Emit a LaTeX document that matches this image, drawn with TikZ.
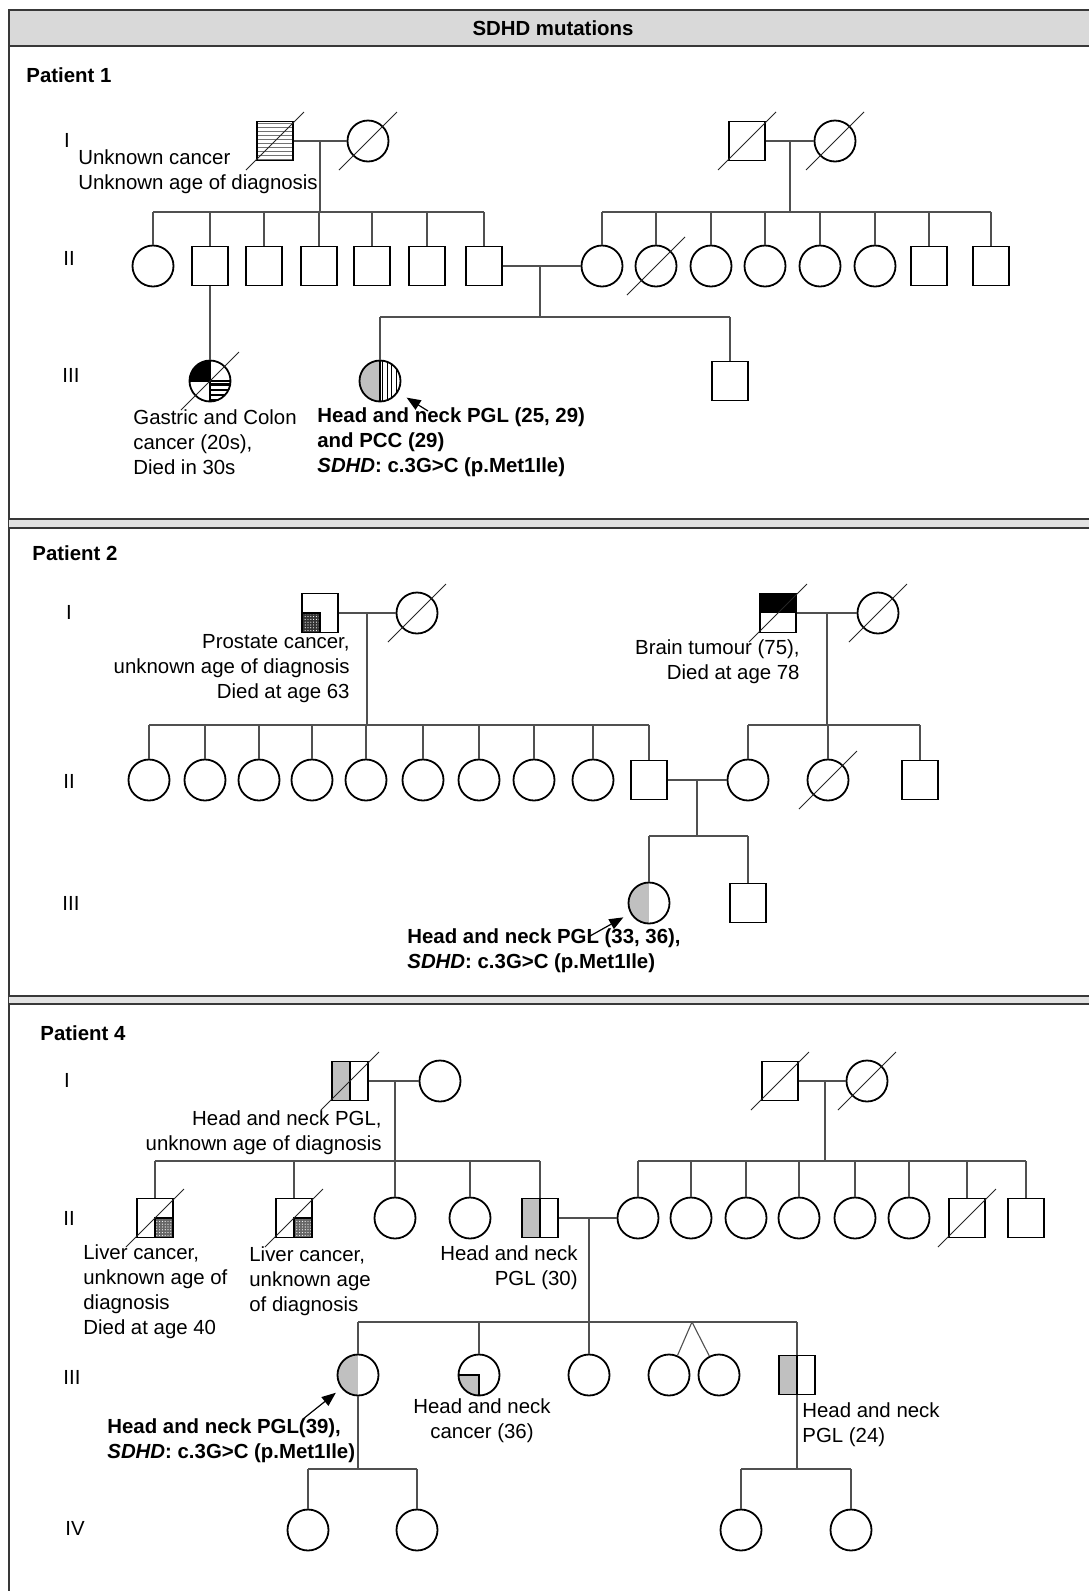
\documentclass[tikz,border=0pt]{standalone}
\usepackage{fontspec}
\setmainfont{Liberation Sans}
\usepackage{xcolor}
\definecolor{AffGray}{HTML}{C0C0C0}
\definecolor{HeadGray}{HTML}{D9D9D9}
\definecolor{LineGray}{HTML}{505050}
\definecolor{RuleDark}{HTML}{383838}
\definecolor{BandGray}{HTML}{E2E2E2}
\usetikzlibrary{arrows.meta, patterns.meta}

\newcommand{\deceased}[1]{\draw[slash] (#1) ++(-29,29) -- ++(58,-58);}

\begin{document}
\begin{tikzpicture}[x=0.5pt, y=-0.5pt,
  male/.style={rectangle, draw=black, line width=0.9pt, fill=white,
               minimum width=18pt, minimum height=19.5pt, inner sep=0pt},
  female/.style={circle, draw=black, line width=0.9pt, fill=white,
                 minimum size=20.5pt, inner sep=0pt},
  lne/.style={draw=LineGray, line width=0.55pt},
  slash/.style={draw=black!85, line width=0.5pt},
  rule/.style={draw=RuleDark, line width=1pt},
  pointer/.style={-{Triangle[length=7pt, width=5.5pt, fill=black]}, draw=black, line width=0.6pt},
  txt/.style={font=\fontsize{10.2pt}{12.5pt}\selectfont, inner sep=0pt},
  btxt/.style={font=\fontsize{10.2pt}{12.5pt}\selectfont\bfseries, inner sep=0pt},
  %% fills of affected symbols
  halfsq/.style={path picture={
    \fill[AffGray] (path picture bounding box.south west) rectangle (path picture bounding box.north);
    \draw[line width=0.9pt] (path picture bounding box.north) -- (path picture bounding box.south);}},
  halfci/.style={path picture={
    \fill[AffGray] (path picture bounding box.south west) rectangle (path picture bounding box.north);}},
  halftop/.style={path picture={
    \fill[black] (path picture bounding box.west) rectangle (path picture bounding box.north east);}},
  stripesq/.style={path picture={
    \fill[pattern={Lines[angle=0, distance=2pt, line width=0.35pt]}, pattern color=black!55]
      (path picture bounding box.south west) rectangle (path picture bounding box.north east);}},
  quadci/.style={path picture={
    \fill[black] (path picture bounding box.west) rectangle (path picture bounding box.north);
    \fill[pattern={Lines[angle=0, distance=2.6pt, line width=1.1pt]}, pattern color=black]
      (path picture bounding box.center) rectangle (path picture bounding box.south east);
    \draw[line width=0.7pt] (path picture bounding box.north) -- (path picture bounding box.south)
      (path picture bounding box.west) -- (path picture bounding box.east);}},
  vstripe/.style={path picture={
    \fill[AffGray] (path picture bounding box.south west) rectangle (path picture bounding box.north);
    \fill[pattern={Lines[angle=90, distance=2.2pt, line width=0.5pt]}, pattern color=black]
      (path picture bounding box.south) rectangle (path picture bounding box.north east);
    \draw[line width=0.7pt] (path picture bounding box.north) -- (path picture bounding box.south);}},
  dotsq/.style={path picture={
    \fill[black!80] (path picture bounding box.center) rectangle (path picture bounding box.south west);
    \fill[pattern={Dots[distance=1.4pt, radius=0.3pt]}, pattern color=white]
      (path picture bounding box.center) rectangle (path picture bounding box.south west);
    \draw[line width=0.6pt] (path picture bounding box.west) -- (path picture bounding box.center)
      -- (path picture bounding box.south);}},
  liversq/.style={path picture={
    \fill[black!60] (path picture bounding box.center) rectangle (path picture bounding box.south east);
    \fill[pattern={Dots[distance=1.4pt, radius=0.3pt]}, pattern color=white]
      (path picture bounding box.center) rectangle (path picture bounding box.south east);
    \draw[line width=0.6pt] (path picture bounding box.east) -- (path picture bounding box.center)
      -- (path picture bounding box.south);}},
  quarterci/.style={path picture={
    \fill[AffGray] (path picture bounding box.center) rectangle (path picture bounding box.south west);
    \draw[line width=0.8pt] (path picture bounding box.west) -- (path picture bounding box.center)
      -- (path picture bounding box.south);}}
]
\useasboundingbox (0,0) rectangle (1088,1591);
\fill[white] (0,0) rectangle (1088,1591);

%% ---- Frame and header ----
\draw[rule, fill=HeadGray] (9,10) rectangle (1096,46);
\node[btxt] (title) at (553,28) {SDHD mutations};
\draw[rule] (9,46) -- (9,1595);
\fill[BandGray] (9,519) rectangle (1096,528);
\draw[rule] (9,519) -- (1096,519) (9,528) -- (1096,528);
\fill[BandGray] (9,996) rectangle (1096,1004);
\draw[rule] (9,996) -- (1096,996) (9,1004) -- (1096,1004);

%% ================= Patient 1 =================
\node[btxt, anchor=west] (pt1) at (26,75) {Patient 1};
\node[txt] (p1gI)   at (67,140) {I};
\node[txt] (p1gII)  at (69,258) {II};
\node[txt] (p1gIII) at (71,375) {III};

% generation I
\node[male, stripesq] (p1a) at (275,141) {};
\node[female]         (p1b) at (368,141) {};
\node[male]           (p1c) at (747,141) {};
\node[female]         (p1d) at (835,141) {};

% generation II
\node[female] (p1k1) at (153,266) {};
\foreach \x [count=\i from 2] in {210,264,319,372,427,484}
  \node[male] (p1k\i) at (\x,266) {};
\foreach \x [count=\i] in {602,656,711,765,820,875}
  \node[female] (p1r\i) at (\x,266) {};
\node[male] (p1r7) at (929,266) {};
\node[male] (p1r8) at (991,266) {};

% generation III
\node[female, quadci]  (p1g1) at (210,381) {};
\node[female, vstripe] (p1g2) at (380,381) {};
\node[male]            (p1g3) at (730,381) {};

\coordinate (p1m1) at (320,141); \coordinate (p1s1) at (320,212);
\coordinate (p1m2) at (790,141); \coordinate (p1s2) at (790,212);
\coordinate (p1m3) at (540,266); \coordinate (p1s3) at (540,317);

\draw[lne] (p1a) -- (p1b);
\draw[lne] (p1m1) -- (p1s1);
\draw[lne] (p1k1 |- p1s1) -- (p1k7 |- p1s1);
\foreach \i in {1,...,7} {\draw[lne] (p1k\i) -- (p1k\i |- p1s1);}
\draw[lne] (p1c) -- (p1d);
\draw[lne] (p1m2) -- (p1s2);
\draw[lne] (p1r1 |- p1s2) -- (p1r8 |- p1s2);
\foreach \i in {1,...,8} {\draw[lne] (p1r\i) -- (p1r\i |- p1s2);}
\draw[lne] (p1k7) -- (p1r1);
\draw[lne] (p1k2) -- (p1g1);
\draw[lne] (p1m3) -- (p1s3);
\draw[lne] (p1g2 |- p1s3) -- (p1g3 |- p1s3);
\draw[lne] (p1g2) -- (p1g2 |- p1s3);
\draw[lne] (p1g3) -- (p1g3 |- p1s3);

\foreach \n in {p1a,p1b,p1c,p1d,p1r2,p1g1} {\deceased{\n}}

\coordinate (p1ar) at (428,411);
\draw[pointer, shorten >=5pt] (p1ar) -- (p1g2);

\node[txt, anchor=west, align=left] (p1t1) at (78,171.5)
  {Unknown cancer\\Unknown age of diagnosis};
\node[txt, anchor=west, align=left] (p1t2) at (133,442)
  {Gastric and Colon\\cancer (20s),\\Died in 30s};
\node[btxt, anchor=west, align=left] (p1t3) at (317,442)
  {Head and neck PGL (25, 29)\\and PCC (29)\\\textit{SDHD}: c.3G\textgreater C (p.Met1Ile)};

%% ================= Patient 2 =================
\node[btxt, anchor=west] (pt2) at (32,553) {Patient 2};
\node[txt] (p2gI)   at (69,612) {I};
\node[txt] (p2gII)  at (69,781) {II};
\node[txt] (p2gIII) at (71,903) {III};

% generation I
\node[male, dotsq]   (p2a) at (320,613) {};
\node[female]        (p2b) at (417,613) {};
\node[male, halftop] (p2c) at (778,613) {};
\node[female]        (p2d) at (878,613) {};

% generation II
\foreach \x [count=\i] in {149,205,259,312,366,423,479,534,593}
  \node[female] (p2k\i) at (\x,780) {};
\node[male]   (p2k10) at (649,780) {};
\node[female] (p2r1) at (748,780) {};
\node[female] (p2r2) at (828,780) {};
\node[male]   (p2r3) at (920,780) {};

% generation III
\node[female, halfci] (p2g1) at (649,903) {};
\node[male]           (p2g2) at (748,903) {};

\coordinate (p2m1) at (367,613); \coordinate (p2s1) at (367,725);
\coordinate (p2m2) at (827,613); \coordinate (p2s2) at (827,725);
\coordinate (p2m3) at (697,780); \coordinate (p2s3) at (697,836);

\draw[lne] (p2a) -- (p2b);
\draw[lne] (p2m1) -- (p2s1);
\draw[lne] (p2k1 |- p2s1) -- (p2k10 |- p2s1);
\foreach \i in {1,...,10} {\draw[lne] (p2k\i) -- (p2k\i |- p2s1);}
\draw[lne] (p2c) -- (p2d);
\draw[lne] (p2m2) -- (p2s2);
\draw[lne] (p2r1 |- p2s2) -- (p2r3 |- p2s2);
\foreach \i in {1,2,3} {\draw[lne] (p2r\i) -- (p2r\i |- p2s2);}
\draw[lne] (p2k10) -- (p2r1);
\draw[lne] (p2m3) -- (p2s3);
\draw[lne] (p2g1 |- p2s3) -- (p2g2 |- p2s3);
\draw[lne] (p2g1) -- (p2g1 |- p2s3);
\draw[lne] (p2g2) -- (p2g2 |- p2s3);

\foreach \n in {p2b,p2c,p2d,p2r2} {\deceased{\n}}

\coordinate (p2ar) at (590,936);
\draw[pointer, shorten >=4pt] (p2ar) -- (p2g1);

\node[txt, anchor=east, align=right] (p2t1) at (350,669)
  {Prostate cancer,\\unknown age of diagnosis\\Died at age 63};
\node[txt, anchor=east, align=right] (p2t2) at (800,661.5)
  {Brain tumour (75),\\Died at age 78};
\node[btxt, anchor=west, align=left] (p2t3) at (407,950.5)
  {Head and neck PGL (33, 36),\\\textit{SDHD}: c.3G\textgreater C (p.Met1Ile)};

%% ================= Patient 4 =================
\node[btxt, anchor=west] (pt4) at (40,1033) {Patient 4};
\node[txt] (p4gI)   at (67,1080) {I};
\node[txt] (p4gII)  at (69,1218) {II};
\node[txt] (p4gIII) at (72,1377) {III};
\node[txt] (p4gIV)  at (75,1528) {IV};

% generation I
\node[male, halfsq] (p4a) at (350,1081) {};
\node[female]       (p4b) at (440,1081) {};
\node[male]         (p4c) at (780,1081) {};
\node[female]       (p4d) at (867,1081) {};

% generation II
\node[male, liversq] (p4k1) at (155,1218) {};
\node[male, liversq] (p4k2) at (294,1218) {};
\node[female]        (p4k3) at (395,1218) {};
\node[female]        (p4k4) at (470,1218) {};
\node[male, halfsq]  (p4k5) at (540,1218) {};
\foreach \x [count=\i] in {638,691,746,799,855,909}
  \node[female] (p4r\i) at (\x,1218) {};
\node[male] (p4r7) at (967,1218) {};
\node[male] (p4r8) at (1026,1218) {};

% generation III
\node[female, halfci]    (p4g1) at (358,1375) {};
\node[female, quarterci] (p4g2) at (479,1375) {};
\node[female]            (p4g3) at (589,1375) {};
\node[female]            (p4g4) at (669,1375) {};
\node[female]            (p4g5) at (719,1375) {};
\node[male, halfsq]      (p4g6) at (797,1375) {};

% generation IV
\node[female] (p4h1) at (308,1530) {};
\node[female] (p4h2) at (417,1530) {};
\node[female] (p4h3) at (741,1530) {};
\node[female] (p4h4) at (851,1530) {};

\coordinate (p4m1) at (395,1081); \coordinate (p4s1) at (395,1161);
\coordinate (p4m2) at (825,1081); \coordinate (p4s2) at (825,1161);
\coordinate (p4m3) at (589,1218); \coordinate (p4s3) at (589,1322);
\coordinate (p4tw) at (692,1322);
\coordinate (p4s4) at (358,1469); \coordinate (p4s5) at (797,1469);

\draw[lne] (p4a) -- (p4b);
\draw[lne] (p4m1) -- (p4s1);
\draw[lne] (p4k1 |- p4s1) -- (p4k5 |- p4s1);
\foreach \i in {1,...,5} {\draw[lne] (p4k\i) -- (p4k\i |- p4s1);}
\draw[lne] (p4c) -- (p4d);
\draw[lne] (p4m2) -- (p4s2);
\draw[lne] (p4r1 |- p4s2) -- (p4r8 |- p4s2);
\foreach \i in {1,...,8} {\draw[lne] (p4r\i) -- (p4r\i |- p4s2);}
\draw[lne] (p4k5) -- (p4r1);
\draw[lne] (p4m3) -- (p4s3);
\draw[lne] (p4g1 |- p4s3) -- (p4g6 |- p4s3);
\foreach \i in {1,2,3,6} {\draw[lne] (p4g\i) -- (p4g\i |- p4s3);}
\draw[lne] (p4tw) -- (p4g4);
\draw[lne] (p4tw) -- (p4g5);
\draw[lne] (p4g1) -- (p4s4);
\draw[lne] (p4h1 |- p4s4) -- (p4h2 |- p4s4);
\draw[lne] (p4h1) -- (p4h1 |- p4s4);
\draw[lne] (p4h2) -- (p4h2 |- p4s4);
\draw[lne] (p4g6) -- (p4s5);
\draw[lne] (p4h3 |- p4s5) -- (p4h4 |- p4s5);
\draw[lne] (p4h3) -- (p4h3 |- p4s5);
\draw[lne] (p4h4) -- (p4h4 |- p4s5);

\foreach \n in {p4a,p4c,p4d,p4k1,p4k2,p4r7} {\deceased{\n}}

\coordinate (p4ar) at (303,1419);
\draw[pointer, shorten >=3.5pt] (p4ar) -- (p4g1);

\node[txt, anchor=east, align=right] (p4t1) at (382,1133)
  {Head and neck PGL,\\unknown age of diagnosis};
\node[txt, anchor=west, align=left] (p4t2) at (83,1291.5)
  {Liver cancer,\\unknown age of\\diagnosis\\Died at age 40};
\node[txt, anchor=west, align=left] (p4t3) at (249,1281)
  {Liver cancer,\\unknown age\\of diagnosis};
\node[txt, anchor=east, align=right] (p4t4) at (578,1267.5)
  {Head and neck\\PGL (30)};
\node[btxt, anchor=west, align=left] (p4t5) at (107,1440.5)
  {Head and neck PGL(39),\\\textit{SDHD}: c.3G\textgreater C (p.Met1Ile)};
\node[txt, align=center] (p4t6) at (482,1420.5)
  {Head and neck\\cancer (36)};
\node[txt, anchor=west, align=left] (p4t7) at (802,1424.5)
  {Head and neck\\PGL (24)};

\end{tikzpicture}
\end{document}
